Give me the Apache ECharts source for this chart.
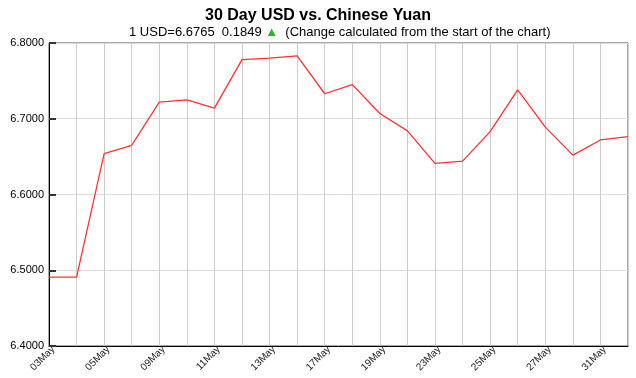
<!DOCTYPE html>
<html>
<head>
<meta charset="utf-8">
<script src="https://cdn.jsdelivr.net/npm/echarts@6/dist/echarts.min.js"></script>
<style>
  html, body { margin: 0; padding: 0; background: #fff; }
  #chart { width: 636px; height: 378px; }
</style>
</head>
<body>
<div id="chart"></div>
<script>
const dates = ['03May', '04May', '05May', '06May', '09May', '10May', '11May', '12May', '13May', '16May', '17May',
  '18May', '19May', '20May', '23May', '24May', '25May', '26May', '27May', '30May', '31May', '01Jun'];
const rates = [6.491, 6.491, 6.654, 6.665, 6.722, 6.725, 6.714, 6.778, 6.780, 6.783, 6.733,
  6.745, 6.707, 6.684, 6.641, 6.644, 6.683, 6.738, 6.689, 6.652, 6.672, 6.6765];
const yTicks = [6.4, 6.5, 6.6, 6.7, 6.8];

const chart = echarts.init(document.getElementById('chart'));

chart.setOption({
  animation: false,
  title: [{
    text: '30 Day USD vs. Chinese Yuan',
    left: 'center',
    top: 3,
    textStyle: { fontFamily: 'Liberation Sans', fontSize: 16, fontWeight: 'bold', color: '#000' }
  }, {
    // subtitle sits a bit right of centre in the original
    text: '1 USD=6.6765  0.1849 {up|▲}  (Change calculated from the start of the chart)',
    left: 124,
    top: 21,
    textStyle: {
      fontFamily: 'Liberation Sans', fontSize: 13, fontWeight: 'normal', color: '#000',
      rich: { up: { color: '#22bb22', fontSize: 13 } }
    }
  }],
  grid: {
    left: 49, right: 8, top: 43, bottom: 32,
    show: true, borderColor: '#555', borderWidth: 1
  },
  xAxis: {
    type: 'category',
    data: dates,
    boundaryGap: false,
    axisLine: { lineStyle: { color: '#000' } },
    axisTick: { show: false },
    axisLabel: {
      interval: 1, rotate: 45, fontFamily: 'Liberation Sans', fontSize: 10,
      color: '#222', margin: 6, padding: [0, -6, -5, 0]
    },
    splitLine: { show: true, interval: 0, lineStyle: { color: '#ccc' } }
  },
  yAxis: {
    type: 'value',
    min: yTicks[0],
    max: yTicks[yTicks.length - 1],
    interval: 0.1,
    axisLine: { show: true, lineStyle: { color: '#000' } },
    axisTick: { show: true, inside: true, length: 7, lineStyle: { color: '#333', width: 2 } },
    axisLabel: {
      fontFamily: 'Liberation Sans', fontSize: 11, color: '#000', margin: 5,
      formatter: v => v.toFixed(4)
    },
    splitLine: { lineStyle: { color: '#ddd' } }
  },
  series: [{
    type: 'line',
    data: rates,
    showSymbol: false,
    lineStyle: { color: '#ff3333', width: 1.3 }
  }]
});
</script>
</body>
</html>
